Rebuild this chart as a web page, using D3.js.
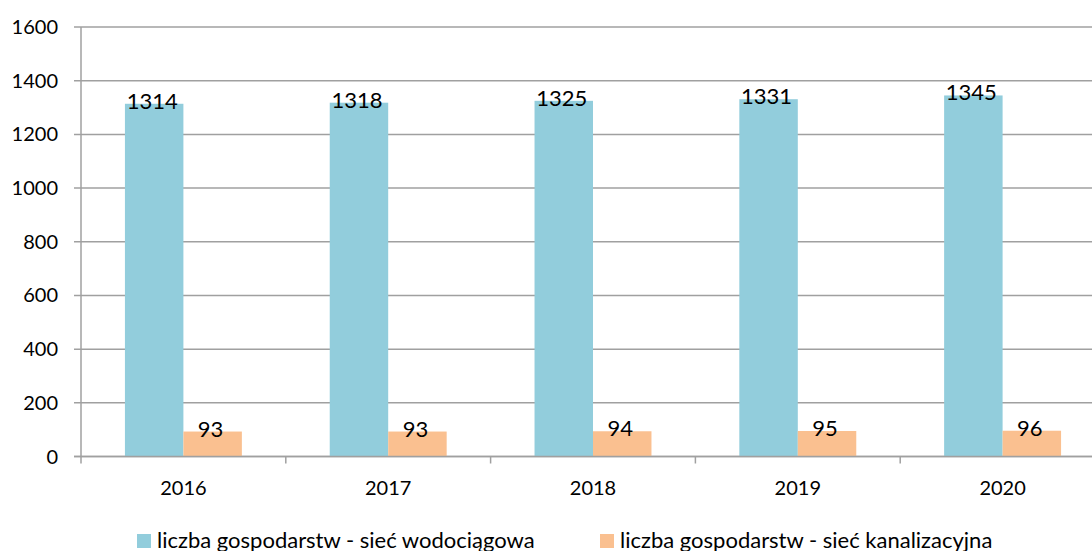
<!DOCTYPE html>
<html>
<head>
<meta charset="utf-8">
<script src="https://cdn.jsdelivr.net/npm/d3@7"></script>
<style>
  body { margin: 0; background: #fff; }
  svg { display: block; font-family: Lato, "Liberation Sans", Arial, sans-serif; }
</style>
</head>
<body>
<div id="chart"></div>
<script>
// data
var years = ["2016", "2017", "2018", "2019", "2020"];
var seriesNames = ["liczba gospodarstw - sieć wodociągowa", "liczba gospodarstw - sieć kanalizacyjna"];
var water = [1314, 1318, 1325, 1331, 1345];
var sewer = [93, 93, 94, 95, 96];
var yTicks = [0, 200, 400, 600, 800, 1000, 1200, 1400, 1600];
var colors = ["#92cddc", "#fac090"];

var W = 1092, H = 551;
var plotLeft = 81, plotTop = 27, plotBottom = 456.5;
var catW = 204.8;

var svg = d3.select("#chart").append("svg")
  .attr("width", W)
  .attr("height", H);

var x0 = d3.scaleBand()
  .domain(years)
  .range([plotLeft, plotLeft + catW * years.length]);

var x1 = d3.scaleBand()
  .domain([0, 1])
  .range([x0.bandwidth() * 0.2145, x0.bandwidth() * 0.7855]);

var y = d3.scaleLinear()
  .domain([0, 1600])
  .range([plotBottom, plotTop]);

// gridlines
svg.append("g").selectAll("line")
  .data(yTicks)
  .enter().append("line")
    .attr("x1", plotLeft - 7)
    .attr("x2", W)
    .attr("y1", function (d) { return y(d); })
    .attr("y2", function (d) { return y(d); })
    .attr("stroke", "#a0a0a0")
    .attr("stroke-width", 1.5);

// y labels
svg.append("g").selectAll("text")
  .data(yTicks)
  .enter().append("text")
    .attr("x", 58)
    .attr("y", function (d) { return y(d) + 7; })
    .attr("text-anchor", "end")
    .attr("font-size", 20)
    .attr("fill", "#000")
    .text(function (d) { return d; });

// bars
var rows = years.map(function (yr, i) { return { year: yr, vals: [water[i], sewer[i]] }; });

var groups = svg.append("g").selectAll("g")
  .data(rows)
  .enter().append("g")
    .attr("transform", function (d) { return "translate(" + x0(d.year) + ",0)"; });

groups.selectAll("rect")
  .data(function (d) { return d.vals; })
  .enter().append("rect")
    .attr("x", function (d, i) { return x1(i); })
    .attr("y", function (d) { return y(d); })
    .attr("width", x1.bandwidth())
    .attr("height", function (d) { return plotBottom - y(d); })
    .attr("fill", function (d, i) { return colors[i]; });

groups.selectAll("text")
  .data(function (d) { return d.vals; })
  .enter().append("text")
    .attr("x", function (d, i) { return x1(i) + x1.bandwidth() / 2 - 2; })
    .attr("y", function (d) { return y(d) + 5; })
    .attr("text-anchor", "middle")
    .attr("font-size", 22)
    .attr("fill", "#000")
    .text(function (d) { return d; });

// axes lines
svg.append("line")
  .attr("x1", plotLeft).attr("x2", plotLeft)
  .attr("y1", plotTop).attr("y2", plotBottom + 7)
  .attr("stroke", "#a0a0a0").attr("stroke-width", 1.5);

svg.append("line")
  .attr("x1", plotLeft - 7).attr("x2", W)
  .attr("y1", plotBottom).attr("y2", plotBottom)
  .attr("stroke", "#a0a0a0").attr("stroke-width", 1.5);

// x ticks at category boundaries
svg.append("g").selectAll("line")
  .data(years)
  .enter().append("line")
    .attr("x1", function (d) { return x0(d) + x0.bandwidth(); })
    .attr("x2", function (d) { return x0(d) + x0.bandwidth(); })
    .attr("y1", plotBottom)
    .attr("y2", plotBottom + 7)
    .attr("stroke", "#a0a0a0")
    .attr("stroke-width", 1.5);

// x labels
svg.append("g").selectAll("text")
  .data(years)
  .enter().append("text")
    .attr("x", function (d) { return x0(d) + x0.bandwidth() / 2; })
    .attr("y", 495)
    .attr("text-anchor", "middle")
    .attr("font-size", 20)
    .attr("fill", "#000")
    .text(function (d) { return d; });

// legend
var legendX = [137, 600];
var legend = svg.append("g").selectAll("g")
  .data(seriesNames)
  .enter().append("g")
    .attr("transform", function (d, i) { return "translate(" + legendX[i] + ",534)"; });

legend.append("rect")
  .attr("width", 14)
  .attr("height", 14)
  .attr("fill", function (d, i) { return colors[i]; });

legend.append("text")
  .attr("x", 20)
  .attr("y", 14)
  .attr("font-size", 22)
  .attr("fill", "#000")
  .text(function (d) { return d; });
</script>
</body>
</html>
